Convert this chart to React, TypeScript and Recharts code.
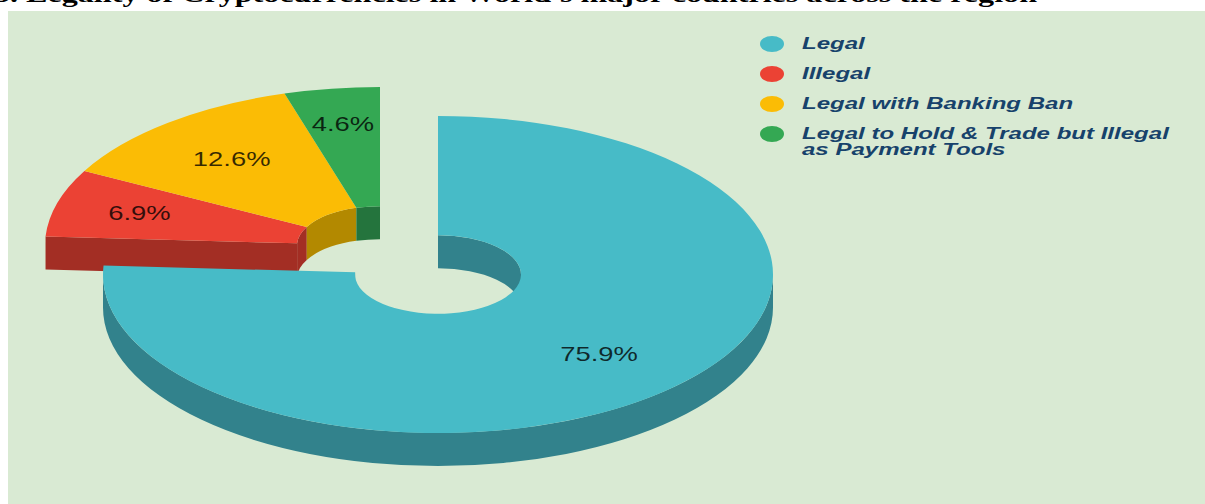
import { Legend, Pie, PieChart } from "recharts";

const categories = [
  "Legal",
  "Illegal",
  "Legal with Banking Ban",
  "Legal to Hold & Trade but Illegal as Payment Tools",
];
const shares = [75.9, 6.9, 12.6, 4.6];
const topColors = ["#47BBC7", "#EB4234", "#FBBC05", "#34A853"];
const wallColors = ["#32828C", "#A32E24", "#B38900", "#24743D"];

const WIDTH = 1205;
const HEIGHT = 504;
const CX = 438;
const CY = 274.5;
const OUTER = 335;
const INNER = 83;
const TILT = 158.5 / 335;
const DEPTH = 33;
const EXPLODE_X = -58;
const EXPLODE_Y = -29;
const LABEL_STRETCH = 1.37;
const LEGEND_STRETCH = 1.415;

// how far out each percentage sits, as a fraction of the outer radius
const labelRadius = [0.7, 0.746, 0.7, 0.768];

const data = categories.map((name, i) => ({
  name,
  value: shares[i],
  fill: topColors[i],
  wall: wallColors[i],
}));

const rad = (deg: number) => (deg * Math.PI) / 180;

// polar angle on the tilted disc
const pt = (x: number, y: number, r: number, a: number) =>
  [x + r * Math.cos(rad(a)), y - r * TILT * Math.sin(rad(a))] as const;

const arcTo = (r: number, p: readonly number[], sweep: number, large: boolean) =>
  `A${r} ${r * TILT} 0 ${large ? 1 : 0} ${sweep} ${p[0]} ${p[1]}`;

// top face of a slice, from the high angle to the low one (clockwise on screen)
const ringPath = (x: number, y: number, r0: number, r1: number, hi: number, lo: number) => {
  const large = hi - lo > 180;
  const a = pt(x, y, r1, hi);
  const b = pt(x, y, r1, lo);
  const c = pt(x, y, r0, lo);
  const d = pt(x, y, r0, hi);
  return `M${a[0]} ${a[1]}${arcTo(r1, b, 1, large)}L${c[0]} ${c[1]}${arcTo(r0, d, 0, large)}Z`;
};

// vertical band under an arc
const wallPath = (x: number, y: number, r: number, hi: number, lo: number) => {
  const large = hi - lo > 180;
  const a = pt(x, y, r, hi);
  const b = pt(x, y, r, lo);
  return `M${a[0]} ${a[1]}${arcTo(r, b, 1, large)}L${b[0]} ${b[1] + DEPTH}${arcTo(r, [a[0], a[1] + DEPTH], 0, large)}Z`;
};

const overlap = (hi: number, lo: number, rangeHi: number, rangeLo: number) => {
  const top = Math.min(hi, rangeHi);
  const bottom = Math.max(lo, rangeLo);
  return top > bottom ? [top, bottom] : null;
};

const Slice = (props: any) => {
  const { cx, cy, innerRadius, outerRadius, startAngle, endAngle, name, fill, wall } = props;
  const exploded = name !== categories[0];
  const x = exploded ? cx + EXPLODE_X : cx;
  const y = exploded ? cy + EXPLODE_Y : cy;

  // the near half shows the outer wall, the far half shows the hole's wall
  const outerPart = overlap(startAngle, endAngle, 0, -180);
  const innerParts = [overlap(startAngle, endAngle, 180, 0), overlap(startAngle, endAngle, -180, -360)];

  const p1 = pt(x, y, outerRadius, startAngle);
  const p2 = pt(x, y, innerRadius, startAngle);

  return (
    <g>
      {outerPart && <path d={wallPath(x, y, outerRadius, outerPart[0], outerPart[1])} fill={wall} />}
      {innerParts.map(
        (part, i) => part && <path key={i} d={wallPath(x, y, innerRadius, part[0], part[1])} fill={wall} />,
      )}
      {name === categories[1] && (
        <path
          d={`M${p1[0]} ${p1[1]}L${p2[0]} ${p2[1]}L${p2[0]} ${p2[1] + DEPTH}L${p1[0]} ${p1[1] + DEPTH}Z`}
          fill={wall}
        />
      )}
      <path d={ringPath(x, y, innerRadius, outerRadius, startAngle, endAngle)} fill={fill} />
    </g>
  );
};

const ExplodedSlice = (props: any) => (props.name === categories[0] ? <g /> : <Slice {...props} />);
const MainSlice = (props: any) => (props.name === categories[0] ? <Slice {...props} /> : <g />);

const PercentLabel = (props: any) => {
  const { cx, cy, midAngle, outerRadius, index, value } = props;
  const exploded = index !== 0;
  const [x, y] = pt(
    exploded ? cx + EXPLODE_X : cx,
    exploded ? cy + EXPLODE_Y : cy,
    outerRadius * labelRadius[index],
    midAngle,
  );
  return (
    <text
      transform={`translate(${x} ${y + 6}) scale(${LABEL_STRETCH} 1)`}
      textAnchor="middle"
      fontFamily="Liberation Sans"
      fontSize={20}
      fill="#000"
      fillOpacity={0.78}
    >
      {value}%
    </text>
  );
};

const legendRows = [44, 74, 104, 134];

// both pies report their sectors, so keep one entry per category, in category order
const LegendContent = ({ payload }: any) => {
  const entries = categories.map((name) => (payload ?? []).find((p: any) => p.value === name)).filter(Boolean);
  return (
    <svg width={460} height={150} style={{ display: "block" }}>
      {entries.map((entry: any, i: number) => {
        const lines = String(entry.value).split(/ (?=as )/);
        return (
          <g key={entry.value}>
            <ellipse cx={22} cy={legendRows[i] - 20} rx={12} ry={8} fill={entry.color} />
            {lines.map((line: string, j: number) => (
              <text
                key={line}
                transform={`translate(52 ${legendRows[i] - 15 + j * 16}) scale(${LEGEND_STRETCH} 1)`}
                fontFamily="Liberation Sans"
                fontStyle="italic"
                fontWeight="bold"
                fontSize={17}
                fill="#17426B"
              >
                {line}
              </text>
            ))}
          </g>
        );
      })}
    </svg>
  );
};

export default function App() {
  return (
    <div
      style={{
        position: "absolute",
        left: 0,
        top: 0,
        width: WIDTH,
        height: HEIGHT,
        overflow: "hidden",
        background: "#fff",
      }}
    >
      <div style={{ position: "absolute", left: 8, top: 11, right: 0, bottom: 0, background: "#D9EAD3" }} />
      <PieChart
        width={WIDTH}
        height={HEIGHT}
        margin={{ top: 0, right: 0, bottom: 0, left: 0 }}
        style={{ position: "absolute", left: 0, top: 0 }}
      >
        <text
          x={-6}
          y={2}
          textLength={1043}
          lengthAdjust="spacingAndGlyphs"
          fontFamily="Liberation Serif"
          fontWeight="bold"
          fontSize={24}
          fill="#000"
        >
          5. Legality of Cryptocurrencies in World's major countries across the region
        </text>
        <Pie
          data={data}
          dataKey="value"
          nameKey="name"
          cx={CX}
          cy={CY}
          innerRadius={INNER}
          outerRadius={OUTER}
          startAngle={90}
          endAngle={-270}
          paddingAngle={0}
          stroke="none"
          shape={ExplodedSlice}
          isAnimationActive={false}
        />
        <Pie
          data={data}
          dataKey="value"
          nameKey="name"
          cx={CX}
          cy={CY}
          innerRadius={INNER}
          outerRadius={OUTER}
          startAngle={90}
          endAngle={-270}
          paddingAngle={0}
          stroke="none"
          legendType="none"
          shape={MainSlice}
          label={PercentLabel}
          labelLine={false}
          isAnimationActive={false}
        />
        <Legend
          content={LegendContent}
          wrapperStyle={{ position: "absolute", left: 750, top: 20, width: 460, height: 150 }}
        />
      </PieChart>
    </div>
  );
}
